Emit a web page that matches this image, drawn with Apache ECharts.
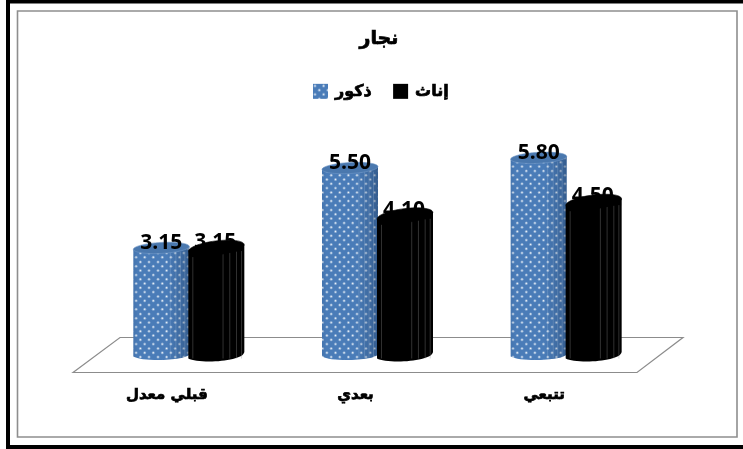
<!DOCTYPE html>
<html lang="ar">
<head>
<meta charset="utf-8">
<style>html,body{margin:0;padding:0;background:#fff}#c{width:743px;height:449px}</style>
<script src="https://cdn.jsdelivr.net/npm/echarts@6/dist/echarts.min.js"></script>
</head>
<body>
<div id="c"></div>
<script>
const chartTitle = 'نجار';
const categories = ['قبلي معدل', 'بعدي', 'تتبعي'];
const maleName = 'ذكور';
const femaleName = 'إناث';
const maleValues = [3.15, 5.50, 5.80];
const femaleValues = [3.15, 4.10, 4.50];

const LABEL_FONT = '"Open Sans", sans-serif';
const ARABIC_FONT = '"DejaVu Sans", sans-serif';

function makeDots() {
  const s = 8.6, cv = document.createElement('canvas');
  cv.width = cv.height = 52;
  const g = cv.getContext('2d');
  g.fillStyle = '#4a7cb8';
  g.fillRect(0, 0, 52, 52);
  for (let i = 0; i < 6; i++) for (let j = 0; j < 12; j++) {
    const x = i * s + (j % 2 ? s / 2 : 0) + 2, y = j * s / 2 + 2;
    g.fillStyle = 'rgba(215,228,242,0.45)';
    g.beginPath(); g.arc(x, y, 1.5, 0, 7); g.fill();
    g.fillStyle = 'rgba(255,255,255,0.85)';
    g.beginPath(); g.arc(x, y, 0.7, 0, 7); g.fill();
  }
  return cv;
}
const dotPattern = { image: makeDots(), repeat: 'repeat' };

function cylinder(kind) {
  const isMale = kind === 'male';
  return function (params, api) {
    const base = api.coord([api.value(0), 0]);
    const top = api.coord([api.value(0), api.value(1)]);
    const w = 56, rx = w / 2, ry = isMale ? 5.5 : 7;
    const tilt = isMale ? 1.5 : 3.5;
    const cx = base[0] + (isMale ? -27 : 28);
    const x0 = cx - rx, x1 = cx + rx, ty = top[1], by = base[1];
    const angle = Math.atan2(tilt * 2, w);
    const body = {
      type: 'path',
      shape: {
        pathData:
          `M${x0} ${ty + tilt} L${x1} ${ty - tilt} L${x1} ${by - tilt} ` +
          `C${x1} ${by + ry}, ${x0 + 10} ${by + ry + 2}, ${x0} ${by + tilt} Z`
      },
      style: { fill: isMale ? dotPattern : '#000' }
    };
    const kids = [body];
    if (isMale) {
      kids.push({
        type: 'path',
        shape: { pathData: body.shape.pathData },
        style: {
          fill: {
            type: 'linear', x: 0, y: 0, x2: 1, y2: 0,
            colorStops: [
              { offset: 0, color: 'rgba(30,60,100,0.12)' },
              { offset: 0.08, color: 'rgba(30,60,100,0)' },
              { offset: 0.6, color: 'rgba(30,60,100,0)' },
              { offset: 1, color: 'rgba(20,45,80,0.4)' }
            ]
          }
        }
      });
    }
    const facetStops = isMale ? [0.66, 0.76, 0.84, 0.92] : [0.08, 0.62, 0.74, 0.86, 0.95];
    facetStops.forEach(function (f) {
      const fx = x0 + w * f;
      const fy = ty + tilt - tilt * 2 * f + ry * 0.9;
      kids.push({
        type: 'line',
        shape: { x1: fx, y1: fy, x2: fx, y2: by + ry * 0.5 },
        style: { stroke: isMale ? 'rgba(190,210,235,0.3)' : 'rgba(140,140,140,0.5)', lineWidth: 0.7 }
      });
    });
    kids.push({
      type: 'ellipse',
      shape: { cx: cx, cy: ty, rx: rx, ry: ry },
      rotation: angle,
      originX: cx,
      originY: ty,
      style: isMale
        ? { fill: '#4a78ae', stroke: '#6f97c6', lineWidth: 0.6 }
        : { fill: '#000', stroke: '#000', lineWidth: 0.6 }
    });
    kids.push({
      type: 'text',
      z2: 20,
      style: {
        x: cx + (isMale ? 0 : -1),
        y: ty - (isMale ? 4.5 : 6),
        text: api.value(1).toFixed(2),
        fill: '#000',
        fontFamily: LABEL_FONT,
        fontSize: 21,
        fontWeight: 'bold',
        align: 'center',
        verticalAlign: 'middle'
      }
    });
    return { type: 'group', children: kids };
  };
}

const heavy = { textBorderColor: '#000', textBorderWidth: 0.7 };
const chart = echarts.init(document.getElementById('c'), null, { renderer: 'canvas', width: 743, height: 449 });
chart.setOption({
  animation: false,
  backgroundColor: '#fff',
  title: {
    text: chartTitle,
    left: 374,
    top: 25,
    textAlign: 'center',
    textStyle: Object.assign({ fontFamily: ARABIC_FONT, fontSize: 19, fontWeight: 'bold', color: '#000' }, heavy)
  },
  legend: {
    left: 308,
    top: 78,
    itemWidth: 15,
    itemHeight: 15,
    itemGap: 21,
    icon: 'rect',
    data: [maleName, femaleName],
    textStyle: Object.assign({ fontFamily: ARABIC_FONT, fontSize: 16, fontWeight: 'bold', color: '#000', padding: [0, 0, 0, 2] }, heavy)
  },
  grid: { left: 94, width: 566, top: 117, height: 238 },
  xAxis: {
    type: 'category',
    data: categories,
    axisLine: { show: false },
    axisTick: { show: false },
    axisLabel: Object.assign({ margin: 33, padding: [0, 43, 0, 0], fontFamily: ARABIC_FONT, fontSize: 15, fontWeight: 'bold', color: '#000' }, heavy)
  },
  yAxis: { type: 'value', min: 0, max: 7, show: false, splitLine: { show: false } },
  graphic: [
    { type: 'rect', z: -5, shape: { x: 6, y: 0, width: 737, height: 3.5 }, style: { fill: '#000' } },
    { type: 'rect', z: -5, shape: { x: 6, y: 0, width: 4, height: 449 }, style: { fill: '#000' } },
    { type: 'rect', z: -5, shape: { x: 6, y: 445, width: 737, height: 4 }, style: { fill: '#000' } },
    { type: 'rect', z: -4, shape: { x: 17.5, y: 11, width: 719.5, height: 426 }, style: { fill: '#fff', stroke: '#8e8e8e', lineWidth: 1.6 } },
    { type: 'polygon', z: -3, shape: { points: [[73, 372.5], [120, 337.5], [683, 337.5], [637, 372.5]] }, style: { fill: '#fff', stroke: '#8c8c8c', lineWidth: 1.2 } }
  ],
  series: [
    {
      name: maleName,
      type: 'custom',
      coordinateSystem: 'cartesian2d',
      renderItem: cylinder('male'),
      itemStyle: { color: dotPattern },
      data: maleValues.map((v, i) => [i, v]),
      encode: { x: 0, y: 1 },
      z: 2
    },
    {
      name: femaleName,
      type: 'custom',
      coordinateSystem: 'cartesian2d',
      renderItem: cylinder('female'),
      itemStyle: { color: '#000' },
      data: femaleValues.map((v, i) => [i, v]),
      encode: { x: 0, y: 1 },
      z: 3
    }
  ]
});
</script>
</body>
</html>
